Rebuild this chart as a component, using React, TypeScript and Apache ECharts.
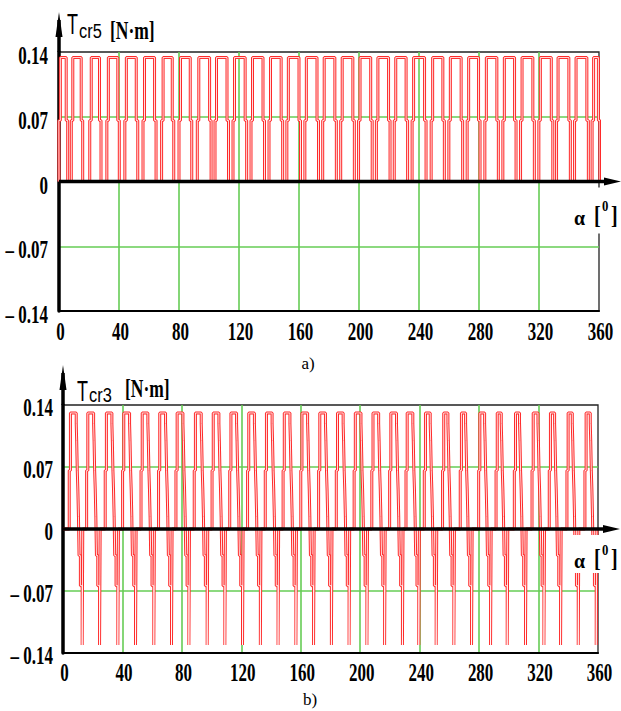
import React, { useEffect, useRef } from "react";
import * as echarts from "echarts";

// ---- axes ----
const xTicks = [0, 40, 80, 120, 160, 200, 240, 280, 320, 360];
const xTickLabels = ["0", "40", "80", "120", "160", "200", "240", "280", "320", "360"];
const yTicks = [0.14, 0.07, 0, -0.07, -0.14];
const yTickLabels = ["0.14", "0.07", "0", "– 0.07", "– 0.14"];

// ---- a) Tcr5 : pulses 0 -> 0.134 with a short step at ~0.066 ----
const tcr5High = 0.134;
const tcr5Mid = 0.066;
const tcr5StepWidth = 1.0;
const tcr5TopStart = [0.9, 9.2, 21.5, 32.9, 44.9, 57.0, 69.4, 81.0, 93.2, 105.0, 117.0, 129.0, 141.0, 152.9, 164.9, 176.8, 188.8, 200.7, 212.6, 224.5, 236.4, 249.1, 260.9, 273.1, 284.9, 296.9, 308.7, 320.9, 332.7, 344.7, 356.4];
const tcr5TopEnd = [4.8, 14.8, 27.0, 39.2, 51.5, 63.7, 75.5, 87.5, 100.4, 112.0, 124.1, 136.0, 148.1, 160.0, 172.0, 183.9, 195.9, 207.8, 219.7, 231.4, 243.7, 255.9, 268.1, 279.7, 291.9, 303.7, 315.9, 328.2, 339.9, 351.9, 359.6];

// ---- b) Tcr3 : rise to 0.131, staircase down to -0.131, back to 0 ----
const tcr3High = 0.131;
const tcr3RiseMid = 0.066;
const tcr3RiseStep = 0.8;
const tcr3TopStart = [5.0, 16.7, 29.2, 40.9, 53.3, 65.1, 76.8, 89.1, 101.1, 113.0, 125.0, 136.9, 148.9, 160.8, 172.8, 184.7, 196.7, 208.6, 220.6, 231.6, 243.9, 256.2, 268.1, 280.5, 292.2, 304.5, 316.4, 328.0, 339.9, 352.0];
const tcr3TopEnd = [8.9, 20.6, 32.9, 44.8, 57.1, 69.0, 80.7, 93.0, 104.9, 116.8, 128.8, 140.7, 152.7, 164.6, 176.6, 188.5, 200.5, 212.4, 224.4, 235.4, 247.1, 259.0, 270.9, 283.7, 294.9, 307.2, 319.6, 330.8, 342.7, 354.8];
const tcr3FallLevels = [0.119, 0.100, 0.066, 0.044, 0.014, -0.030, -0.064, -0.131];
const tcr3FallOffsets = [0, 0.3, 0.7, 1.1, 1.5, 1.9, 2.8, 4.0];
const tcr3BottomEnd = 4.4;

const RED = "#ff2a2a";
const GREEN = "#66cc55";

function buildTcr5() {
  const d: number[][] = [[0, 0]];
  for (let i = 0; i < tcr5TopStart.length; i++) {
    const s = tcr5TopStart[i];
    const e = tcr5TopEnd[i];
    d.push([s - tcr5StepWidth, 0], [s - tcr5StepWidth, tcr5Mid], [s, tcr5Mid], [s, tcr5High]);
    d.push([e, tcr5High], [e, tcr5Mid], [e + tcr5StepWidth, tcr5Mid], [e + tcr5StepWidth, 0]);
  }
  return d;
}

function buildTcr3() {
  const d: number[][] = [[0, 0]];
  for (let i = 0; i < tcr3TopStart.length; i++) {
    const s = tcr3TopStart[i];
    const e = tcr3TopEnd[i];
    d.push([s - tcr3RiseStep, 0], [s - tcr3RiseStep, tcr3RiseMid], [s, tcr3RiseMid], [s, tcr3High]);
    let prev = tcr3High;
    for (let k = 0; k < tcr3FallLevels.length; k++) {
      const x = e + tcr3FallOffsets[k];
      d.push([x, prev], [x, tcr3FallLevels[k]]);
      prev = tcr3FallLevels[k];
    }
    d.push([e + tcr3BottomEnd, prev], [e + tcr3BottomEnd, 0]);
  }
  return d;
}

const zeroLine = [[0, 0], [360, 0]];

function axesFor(gi: number) {
  return {
    x: {
      type: "value", gridIndex: gi, min: 0, max: 360, interval: 40,
      axisLine: { show: true, onZero: false, lineStyle: { color: "#000", width: 2 } },
      axisTick: { show: false }, axisLabel: { show: false },
      splitLine: { show: true, showMinLine: false, showMaxLine: false, lineStyle: { color: GREEN, width: 1.6 } },
    },
    y: {
      type: "value", gridIndex: gi, min: -0.14, max: 0.14, interval: 0.07,
      axisLine: { show: true, onZero: false, lineStyle: { color: "#000", width: 3.5 } },
      axisTick: { show: false }, axisLabel: { show: false },
      splitLine: { show: true, showMinLine: false, showMaxLine: false, lineStyle: { color: GREEN, width: 1.6 } },
    },
  };
}

function seriesFor(gi: number, data: number[][]) {
  return [
    { type: "line", xAxisIndex: gi, yAxisIndex: gi, data, symbol: "none", z: 3,
      lineStyle: { color: RED, width: 3 }, silent: true },
    { type: "line", xAxisIndex: gi, yAxisIndex: gi, data, symbol: "none", z: 4,
      lineStyle: { color: "rgba(255,255,255,0.85)", width: 1 }, silent: true },
    { type: "line", xAxisIndex: gi, yAxisIndex: gi, data: zeroLine, symbol: "none", z: 6,
      lineStyle: { color: "#000", width: 3.5 }, silent: true },
  ];
}

function condText(text: string, x: number, y: number, align: string, size: number, opts: any = {}) {
  return {
    type: "text", x, y, z: 100, scaleX: opts.scaleX ?? 0.68, silent: true,
    style: {
      text, fill: "#000",
      fontFamily: opts.family ?? "Liberation Serif",
      fontWeight: opts.weight ?? "bold",
      fontSize: size,
      align, textAlign: align, verticalAlign: "middle", textVerticalAlign: "middle",
    },
  };
}

export default function App() {
  const ref = useRef<HTMLDivElement>(null);
  useEffect(() => {
    document.body.style.margin = "0";
    const chart = echarts.init(ref.current!, undefined, { renderer: "svg" });
    const a0 = axesFor(0);
    const a1 = axesFor(1);
    chart.setOption({
      animation: false,
      backgroundColor: "#fff",
      grid: [
        { left: 59, top: 52, width: 540, height: 259, show: true, borderColor: "#222", borderWidth: 1.3, backgroundColor: "transparent" },
        { left: 63, top: 405, width: 535, height: 248, show: true, borderColor: "#222", borderWidth: 1.3, backgroundColor: "transparent" },
      ],
      xAxis: [a0.x, a1.x],
      yAxis: [a0.y, a1.y],
      series: [...seriesFor(0, buildTcr5()), ...seriesFor(1, buildTcr3())],
    });

    const g: any[] = [];
    const cfg = [
      { gi: 0, yLabRight: 48, yOff: 4, xOff: 21 },
      { gi: 1, yLabRight: 53, yOff: 3, xOff: 20 },
    ];
    cfg.forEach((c) => {
      const P = (x: number, y: number) => chart.convertToPixel({ gridIndex: c.gi } as any, [x, y]) as number[];
      const o = P(0, 0);
      const tr = P(360, 0.14);
      yTicks.forEach((v, i) => {
        const p = P(0, v);
        g.push(condText(yTickLabels[i], c.yLabRight, p[1] + c.yOff, "right", 25));
      });
      xTicks.forEach((v, i) => {
        const p = P(v, -0.14);
        g.push(condText(xTickLabels[i], p[0] + 1.5, p[1] + c.xOff, "center", 25));
      });
      // y arrow
      g.push({ type: "line", z: 100, silent: true, shape: { x1: o[0], y1: tr[1], x2: o[0], y2: tr[1] - 32 }, style: { stroke: "#000", lineWidth: 3.5 } });
      g.push({ type: "polygon", z: 100, silent: true, shape: { points: [[o[0] - 3.5, tr[1] - 15], [o[0], tr[1] - 40], [o[0] + 3.5, tr[1] - 15]] }, style: { fill: "#000" } });
      // label backdrop + x arrow
      g.push({ type: "rect", z: 90, silent: true, shape: { x: tr[0] - 31, y: o[1] + 6, width: 60, height: c.gi === 0 ? 46 : 38 }, style: { fill: "#fff" } });
      g.push({ type: "line", z: 100, silent: true, shape: { x1: tr[0], y1: o[1], x2: tr[0] + 10, y2: o[1] }, style: { stroke: "#000", lineWidth: 3.5 } });
      g.push({ type: "polygon", z: 100, silent: true, shape: { points: [[tr[0] + 5, o[1] - 4], [tr[0] + 22, o[1]], [tr[0] + 5, o[1] + 4]] }, style: { fill: "#000" } });
    });

    // alpha labels
    const alpha = (yA: number, yZero: number) => {
      g.push(condText("α", 574, yA, "left", 22, { scaleX: 0.9 }));
      g.push(condText("[", 594, yA - 2, "left", 25, { scaleX: 0.8 }));
      g.push(condText("0", 602, yZero, "left", 15, { scaleX: 0.85 }));
      g.push(condText("]", 611, yA - 2, "left", 25, { scaleX: 0.8 }));
    };
    alpha(218, 206);
    alpha(561, 550);

    // titles
    const title = (x: number, yT: number, sub: string, dy: number) => {
      g.push(condText("T", x, yT, "left", 29, { family: "Liberation Sans", weight: "normal", scaleX: 0.62 }));
      g.push(condText(sub, x + 12, yT + dy, "left", 21, { family: "Liberation Sans", weight: "normal", scaleX: 0.78 }));
    };
    title(67, 24, "cr5", 7);
    g.push(condText("[N·m]", 110, 31, "left", 25, { scaleX: 0.7 }));
    title(77, 391, "cr3", 4);
    g.push(condText("[N·m]", 125, 389, "left", 25, { scaleX: 0.7 }));

    g.push(condText("a)", 308, 363, "center", 17, { weight: "normal", scaleX: 1 }));
    g.push(condText("b)", 310, 699, "center", 17, { weight: "normal", scaleX: 1 }));

    chart.setOption({ graphic: g });
    return () => chart.dispose();
  }, []);
  return <div ref={ref} style={{ width: 621, height: 711 }} />;
}
